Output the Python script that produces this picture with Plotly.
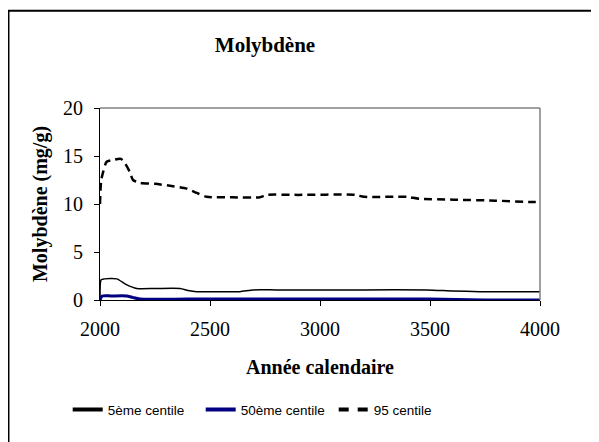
import plotly.graph_objects as go

# Values
years_p5 = [2000, 2005, 2020, 2076, 2120, 2167, 2250, 2364, 2400, 2440, 2550, 2636, 2697, 2800, 3000, 3200, 3485, 3600, 3727, 3850, 4000]
p5 = [0.0, 2.1, 2.2, 2.2, 1.6, 1.2, 1.2, 1.2, 1.0, 0.87, 0.87, 0.87, 1.05, 1.05, 1.05, 1.05, 1.05, 0.95, 0.87, 0.87, 0.87]

years_p50 = [2000, 2010, 2050, 2121, 2150, 2182, 2400, 2800, 3200, 3500, 3620, 3750, 4000]
p50 = [0.0, 0.42, 0.42, 0.42, 0.25, 0.1, 0.1, 0.1, 0.1, 0.1, 0.05, 0.0, 0.0]

years_p95 = [2000, 2005, 2015, 2030, 2060, 2095, 2115, 2136, 2150, 2182, 2250, 2332, 2394, 2440, 2485, 2600, 2727, 2758, 2900, 3159, 3200, 3394, 3450, 3605, 3800, 3955, 4000]
p95 = [10.0, 12.4, 13.4, 14.4, 14.6, 14.7, 14.2, 13.3, 12.5, 12.2, 12.1, 11.85, 11.6, 11.15, 10.75, 10.7, 10.7, 10.95, 10.95, 10.95, 10.75, 10.75, 10.55, 10.45, 10.35, 10.2, 10.2]

names = ["5ème centile", "50ème centile", "95 centile"]

SERIF = "Liberation Serif, Times New Roman, serif"
SANS = "Liberation Sans, Arial, sans-serif"

styles = [
    dict(color="black", width=1.5),
    dict(color="#000080", width=3),
    dict(color="black", width=2.5, dash="8px,5px"),
]
legend_styles = [
    dict(color="black", width=4),
    dict(color="#000080", width=4),
    dict(color="black", width=4, dash="10px,9px"),
]

fig = go.Figure()
for xs, ys, name, st in zip([years_p5, years_p50, years_p95], [p5, p50, p95], names, styles):
    fig.add_trace(go.Scatter(x=xs, y=ys, mode="lines", name=name, showlegend=False,
                             line=dict(shape="spline", smoothing=0.6, **st)))
# legend entries drawn with the thicker Excel-style samples
for name, st in zip(names, legend_styles):
    fig.add_trace(go.Scatter(x=[None], y=[None], mode="lines", name=name, line=st))

# outer chart frame
fig.add_shape(type="rect", xref="paper", yref="paper",
              x0=-0.208, x1=1.3, y0=-0.9, y1=1.506,
              line=dict(color="black", width=2), layer="below")

fig.update_layout(
    width=599, height=442,
    margin=dict(l=92, r=67, t=100, b=150),
    paper_bgcolor="white", plot_bgcolor="white",
    title=dict(text="<b>Molybdène</b>", x=0.375, xref="paper", xanchor="center",
               y=0.916, yref="container", yanchor="middle",
               font=dict(family=SERIF, size=21, color="black")),
    xaxis=dict(range=[2000, 4000], tickvals=[2000, 2500, 3000, 3500, 4000],
               ticks="outside", ticklen=5, tickcolor="black", ticklabelstandoff=6,
               showgrid=False, zeroline=False, showline=True, linecolor="black", linewidth=1,
               tickfont=dict(family=SERIF, size=20, color="black"),
               title=dict(text="<b>Année calendaire</b>", standoff=20,
                          font=dict(family=SERIF, size=20, color="black"))),
    yaxis=dict(range=[0, 20], tickvals=[0, 5, 10, 15, 20],
               ticks="outside", ticklen=5, tickcolor="black", ticklabelstandoff=7,
               showgrid=False, zeroline=False, showline=True, linecolor="black", linewidth=1,
               tickfont=dict(family=SERIF, size=20, color="black"),
               title=dict(text="<b>Molybdène (mg/g)</b>", standoff=10,
                          font=dict(family=SERIF, size=20, color="black"))),
    legend=dict(orientation="h", x=0.38, xanchor="center", y=-0.571, yanchor="middle",
                font=dict(family=SANS, size=13.5, color="black"),
                itemwidth=30, entrywidth=88, bgcolor="rgba(0,0,0,0)"),
    showlegend=True,
)

# gray top/right border of the plot area
fig.add_shape(type="line", xref="paper", yref="paper", x0=0, x1=1, y0=1, y1=1,
              line=dict(color="#808080", width=1.5))
fig.add_shape(type="line", xref="paper", yref="paper", x0=1, x1=1, y0=0, y1=1,
              line=dict(color="#808080", width=1.5))

fig.write_html("out.html")
